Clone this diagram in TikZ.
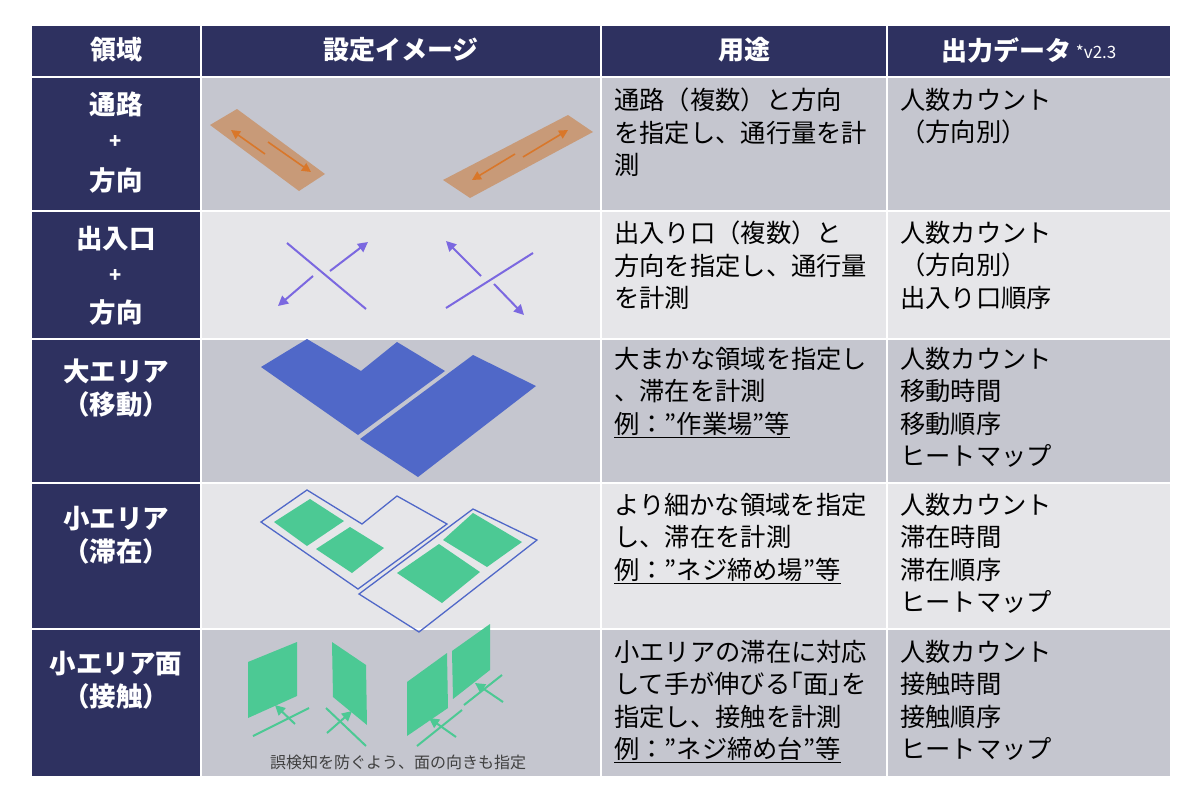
\documentclass[tikz,border=0pt]{standalone}
\usepackage{fontspec}
\setmainfont{Noto Sans CJK JP}
\usetikzlibrary{arrows.meta}
\definecolor{navy}{HTML}{2E3160}
\definecolor{rowA}{HTML}{C5C6CF}
\definecolor{rowB}{HTML}{E6E6E9}
\definecolor{orfill}{HTML}{C89A78}
\definecolor{orarr}{HTML}{D9772A}
\definecolor{purp}{HTML}{7B68E0}
\definecolor{blu}{HTML}{5068C8}
\definecolor{grn}{HTML}{4CC994}
\tikzset{
  cell/.style={draw=white,line width=2pt},
  hdr/.style={text=white,font=\fontsize{26}{30}\selectfont\bfseries},
  lft/.style={text=white,font=\fontsize{26.5}{33}\selectfont\bfseries,align=center},
  body/.style={anchor=north west,font=\fontsize{25.3}{32.5}\selectfont,align=left,inner sep=0pt},
  oarr/.style={draw=orarr,line width=1.6pt,-{Triangle[length=9pt,width=9pt]}},
  parr/.style={draw=purp,line width=2pt,-{Triangle[length=10pt,width=10pt]}},
  pline/.style={draw=purp,line width=2pt},
  garr/.style={draw=grn,line width=2pt,-{Triangle[length=10pt,width=10pt]}},
  gline/.style={draw=grn,line width=2pt},
}
\begin{document}
\begin{tikzpicture}[x=1pt,y=-1pt]
\useasboundingbox (0,0) rectangle (1200,800);
\fill[white] (0,0) rectangle (1200,800);
% header
\foreach \a/\b in {31/201,201/601,601/887,887/1171}{
  \filldraw[cell,fill=navy] (\a,25) rectangle (\b,77);}
\foreach \y/\z/\c in {77/211/rowA,211/339/rowB,339/483/rowA,483/629/rowB,629/777/rowA}{
  \filldraw[cell,fill=navy] (31,\y) rectangle (201,\z);
  \filldraw[cell,fill=\c] (201,\y) rectangle (601,\z);
  \filldraw[cell,fill=\c] (601,\y) rectangle (887,\z);
  \filldraw[cell,fill=\c] (887,\y) rectangle (1171,\z);}
\node[hdr] (h1) at (116,50) {領域};
\node[hdr] (h2) at (401,50) {設定イメージ};
\node[hdr] (h3) at (744,50) {用途};
\node[hdr] (h4) at (1029,50) {出力データ\,{\fontsize{17}{18}\selectfont\mdseries\raisebox{2pt}{*v2.3}}};
% left column
\node[lft] (l1a) at (116,104) {通路};
\node[lft] (l1b) at (116,142) {\fontsize{20}{22}\selectfont +};
\node[lft] (l1c) at (116,180) {方向};
\node[lft] (l2a) at (116,239) {出入口};
\node[lft] (l2b) at (116,276) {\fontsize{20}{22}\selectfont +};
\node[lft] (l2c) at (116,312) {方向};
\node[lft] (l3) at (116,388) {大エリア\\（移動）};
\node[lft] (l4) at (116,535) {小エリア\\（滞在）};
\node[lft] (l5) at (116,680) {小エリア面\\（接触）};
% usage
\node[body] (u1) at (614,88) {通路（複数）と方向\\を指定し、通行量を計\\測};
\node[body] (u2) at (614,221) {出入り口（複数）と\\方向を指定し、通行量\\を計測};
\node[body] (u3) at (614,347) {大まかな領域を指定し\\、滞在を計測\\\underline{例：”作業場”等}};
\node[body] (u4) at (614,493) {より細かな領域を指定\\し、滞在を計測\\\underline{例：”ネジ締め場”等}};
\node[body] (u5) at (614,640) {小エリアの滞在に対応\\して手が伸びる｢面｣を\\指定し、接触を計測\\\underline{例：”ネジ締め台”等}};
% outputs
\node[body] (o1) at (900,88) {人数カウント\\（方向別）};
\node[body] (o2) at (900,221) {人数カウント\\（方向別）\\出入り口順序};
\node[body] (o3) at (900,347) {人数カウント\\移動時間\\移動順序\\ヒートマップ};
\node[body] (o4) at (900,493) {人数カウント\\滞在時間\\滞在順序\\ヒートマップ};
\node[body] (o5) at (900,640) {人数カウント\\接触時間\\接触順序\\ヒートマップ};
% row1 images
\fill[orfill] (210,125) -- (237,109) -- (325,174) -- (299,191) -- cycle;
\fill[orfill] (443,180) -- (568,115) -- (593,132) -- (470,198) -- cycle;
\coordinate (a1s) at (265,154); \coordinate (a1e) at (231,130);
\coordinate (a2s) at (268,142); \coordinate (a2e) at (311,172);
\coordinate (a3s) at (515,154); \coordinate (a3e) at (472,180);
\coordinate (a4s) at (523,157); \coordinate (a4e) at (568,130);
\draw[oarr] (a1s) -- (a1e);
\draw[oarr] (a2s) -- (a2e);
\draw[oarr] (a3s) -- (a3e);
\draw[oarr] (a4s) -- (a4e);
% row2 images
\coordinate (p1) at (287,243); \coordinate (p2) at (366,309);
\coordinate (p3) at (330,271); \coordinate (p4) at (368,242);
\coordinate (p5) at (313,276); \coordinate (p6) at (278,306);
\coordinate (q1) at (533,253); \coordinate (q2) at (446,308);
\coordinate (q3) at (481,276); \coordinate (q4) at (446,241);
\coordinate (q5) at (494,284); \coordinate (q6) at (524,315);
\draw[pline] (p1) -- (p2);
\draw[parr] (p3) -- (p4);
\draw[parr] (p5) -- (p6);
\draw[pline] (q1) -- (q2);
\draw[parr] (q3) -- (q4);
\draw[parr] (q5) -- (q6);
% row3
\fill[blu] (261,367) -- (307,339) -- (361,371) -- (397,342) -- (445,371) -- (358,435) -- cycle;
\fill[blu] (360,439) -- (473,355) -- (536,386) -- (418,477) -- cycle;
% row4
\draw[blu,line width=1.3pt] (261,522) -- (307,490) -- (362,524) -- (397,496) -- (447,524) -- (358,589) -- cycle;
\draw[blu,line width=1.3pt] (359,594) -- (473,509) -- (537,540) -- (419,632) -- cycle;
\fill[grn] (274,522) -- (310,499) -- (344,521) -- (307,546) -- cycle;
\fill[grn] (316,549) -- (350,527) -- (384,548) -- (352,573) -- cycle;
\fill[grn] (397,573) -- (439,544) -- (480,572) -- (442,603) -- cycle;
\fill[grn] (443,540) -- (473,513) -- (522,542) -- (487,567) -- cycle;
% row5
\fill[grn] (248,662) -- (297,642) -- (297,696) -- (248,718) -- cycle;
\fill[grn] (332,642) -- (366,665) -- (367,725) -- (333,697) -- cycle;
\fill[grn] (407,682) -- (447,653) -- (448,708) -- (407,736) -- cycle;
\fill[grn] (452,651) -- (490,624) -- (490,670) -- (453,699) -- cycle;
\coordinate (g1) at (253,736); \coordinate (g2) at (309,708);
\coordinate (g3) at (295,724); \coordinate (g4) at (275,705);
\coordinate (g5) at (326,708); \coordinate (g6) at (366,746);
\coordinate (g7) at (327,733); \coordinate (g8) at (352,711);
\coordinate (g9) at (417,746); \coordinate (g10) at (462,710);
\coordinate (g11) at (456,737); \coordinate (g12) at (429,718);
\coordinate (g13) at (464,705); \coordinate (g14) at (502,675);
\coordinate (g15) at (503,702); \coordinate (g16) at (475,683);
\draw[gline] (g1) -- (g2);
\draw[garr] (g3) -- (g4);
\draw[gline] (g5) -- (g6);
\draw[garr] (g7) -- (g8);
\draw[gline] (g9) -- (g10);
\draw[garr] (g11) -- (g12);
\draw[gline] (g13) -- (g14);
\draw[garr] (g15) -- (g16);
\node[font=\fontsize{16}{18}\selectfont,text=black!75] (cap) at (398,762) {誤検知を防ぐよう、面の向きも指定};
\end{tikzpicture}
\end{document}
